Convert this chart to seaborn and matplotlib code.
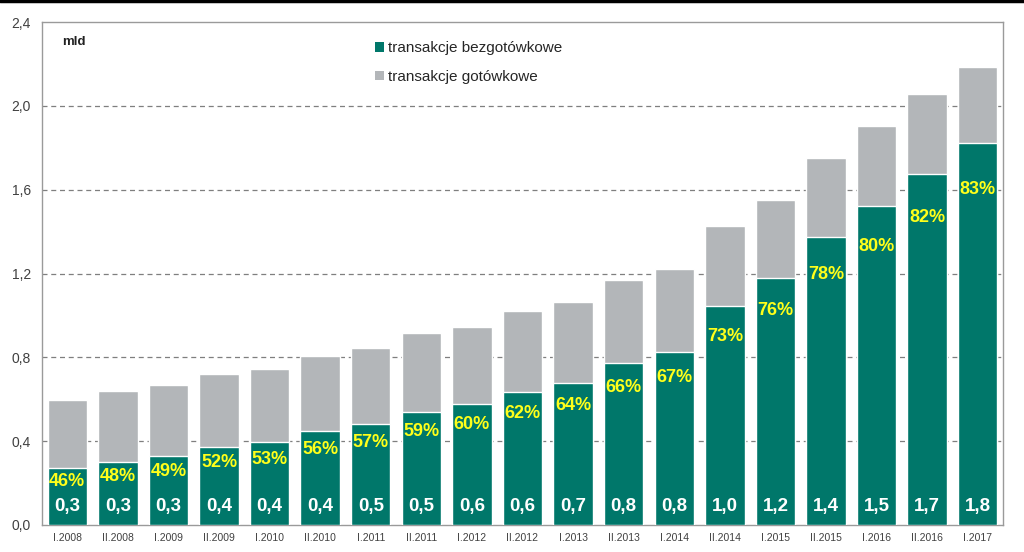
import pandas as pd
import matplotlib
matplotlib.use("Agg")
import matplotlib.pyplot as plt
from matplotlib.patches import Patch
from matplotlib.lines import Line2D
import seaborn as sns

# half-year periods
periods = ["I.2008", "II.2008", "I.2009", "II.2009", "I.2010", "II.2010",
           "I.2011", "II.2011", "I.2012", "II.2012", "I.2013", "II.2013",
           "I.2014", "II.2014", "I.2015", "II.2015", "I.2016", "II.2016",
           "I.2017"]

# non-cash transactions (bn)
cashless = [0.273, 0.302, 0.330, 0.373, 0.394, 0.447, 0.482, 0.540, 0.577,
            0.634, 0.679, 0.771, 0.826, 1.044, 1.180, 1.372, 1.521, 1.677,
            1.823]

# cash transactions (bn)
cash = [0.323, 0.337, 0.339, 0.347, 0.348, 0.357, 0.363, 0.377, 0.367,
        0.387, 0.385, 0.397, 0.394, 0.383, 0.370, 0.378, 0.382, 0.378,
        0.361]

# share of non-cash (labels)
share = [46, 48, 49, 52, 53, 56, 57, 59, 60, 62, 64, 66, 67, 73, 76, 78,
         80, 82, 83]

value_labels = ["0,3", "0,3", "0,3", "0,4", "0,4", "0,4", "0,5", "0,5",
                "0,6", "0,6", "0,7", "0,8", "0,8", "1,0", "1,2", "1,4",
                "1,5", "1,7", "1,8"]

y_ticks = [0.0, 0.4, 0.8, 1.2, 1.6, 2.0, 2.4]
y_tick_labels = ["0,0", "0,4", "0,8", "1,2", "1,6", "2,0", "2,4"]

GREEN = "#00776a"
GREY = "#b3b6b9"
FONT = ["Liberation Sans", "DejaVu Sans"]


def main():
    sns.set_style("white")
    plt.rcParams["font.family"] = FONT

    df = pd.DataFrame({
        "period": periods,
        "cashless": cashless,
        "total": [a + b for a, b in zip(cashless, cash)],
    })

    fig = plt.figure(figsize=(10.24, 5.52), dpi=100)
    ax = fig.add_axes([0.041, 0.049, 0.9385, 0.911])

    sns.barplot(data=df, x="period", y="total", color=GREY,
                saturation=1, width=0.78, ax=ax, zorder=2)
    sns.barplot(data=df, x="period", y="cashless", color=GREEN,
                saturation=1, width=0.78, ax=ax, zorder=3)

    ax.set_xlim(-0.5, len(periods) - 0.5)
    ax.set_ylim(0, 2.4)
    ax.set_yticks(y_ticks)
    ax.set_yticklabels(y_tick_labels, fontsize=10, color="#404040")
    ax.tick_params(axis="y", length=0, pad=8)
    ax.tick_params(axis="x", length=0, pad=6, labelsize=7.5, labelcolor="#404040")
    ax.set_xlabel("")
    ax.set_ylabel("")

    for yv in y_ticks[1:-1]:
        ax.axhline(yv, color="#7f7f7f", lw=0.9, ls=(0, (4, 3)), zorder=1)

    for sp in ax.spines.values():
        sp.set_color("#9a9a9a")
        sp.set_linewidth(1.0)

    for i, (g, s, v) in enumerate(zip(cashless, share, value_labels)):
        ax.text(i, 0.9 * g - 0.04, f"{s}%", ha="center", va="center",
                color="#ffff1a", fontsize=13, fontweight="bold", zorder=4)
        ax.text(i, 0.09, v, ha="center", va="center", color="white",
                fontsize=13.5, fontweight="bold", zorder=4)

    ax.text(0.021, 0.96, "mld", transform=ax.transAxes, fontsize=9.5,
            fontweight="bold", va="center", ha="left", color="#222222")

    handles = [
        Patch(facecolor=GREEN, edgecolor="none", label="transakcje bezgotówkowe"),
        Patch(facecolor=GREY, edgecolor="none", label="transakcje gotówkowe"),
    ]
    fig.legend(handles=handles, loc="upper left",
               bbox_to_anchor=(0.366, 0.925), frameon=False, fontsize=11,
               handlelength=0.6, handleheight=0.6, handletextpad=0.25,
               labelspacing=0.95, borderpad=0, borderaxespad=0)

    # dark strip along the top edge
    fig.add_artist(Line2D([0, 1], [0.998, 0.998], color="black", lw=2.5,
                          transform=fig.transFigure))

    fig.savefig("out.png", dpi=100)


if __name__ == "__main__":
    main()
